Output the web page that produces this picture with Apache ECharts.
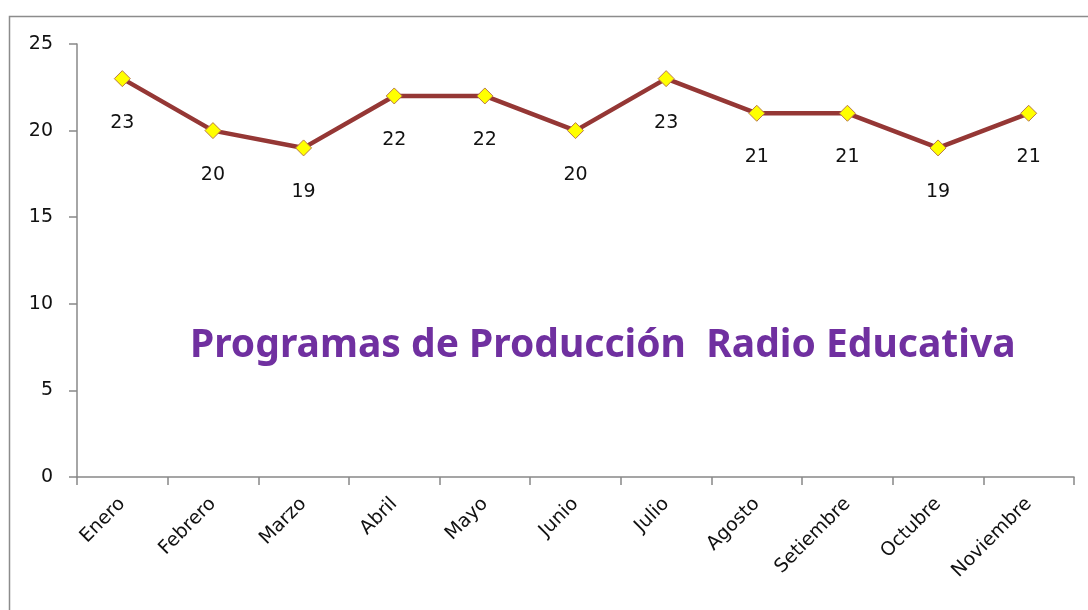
<!DOCTYPE html>
<html>
<head>
<meta charset="utf-8">
<script src="https://cdn.jsdelivr.net/npm/echarts@6/dist/echarts.min.js"></script>
<style>
    html, body { margin: 0; padding: 0; background: #fff; }
    #chart { width: 1088px; height: 610px; }
</style>
</head>
<body>
<div id="chart"></div>
<script>
    const months = ['Enero', 'Febrero', 'Marzo', 'Abril', 'Mayo', 'Junio', 'Julio', 'Agosto', 'Setiembre', 'Octubre', 'Noviembre'];
    const programas = [23, 20, 19, 22, 22, 20, 23, 21, 21, 19, 21];
    const yTicks = [0, 5, 10, 15, 20, 25];

    const font = 'DejaVu Sans, Verdana, sans-serif';
    let myChart = echarts.init(document.getElementById('chart'));
    let option = {
        animation: false,
        backgroundColor: '#fff',
        grid: {left: 77, right: 14, top: 44, bottom: 133},
        graphic: [
            {
                type: 'rect',
                shape: {x: 9.5, y: 16.5, width: 1200, height: 800},
                style: {fill: 'none', stroke: '#8c8c8c', lineWidth: 1.5},
                silent: true
            },
            {
                type: 'text',
                left: 190,
                top: 326,
                style: {
                    text: 'Programas de Producción  Radio Educativa',
                    fill: '#7030a0',
                    font: 'bold 39px "Noto Sans", "Open Sans", sans-serif'
                }
            }
        ],
        xAxis: {
            type: 'category',
            data: months,
            boundaryGap: true,
            axisLine: {lineStyle: {color: '#888', width: 1.5}},
            axisTick: {show: true, length: 8, alignWithLabel: false, lineStyle: {color: '#888', width: 1.5}},
            axisLabel: {rotate: 45, interval: 0, margin: 24, color: '#111', fontFamily: font, fontSize: 19}
        },
        yAxis: {
            type: 'value',
            min: yTicks[0],
            max: yTicks[yTicks.length - 1],
            interval: 5,
            splitLine: {show: false},
            axisLine: {show: true, lineStyle: {color: '#888', width: 1.5}},
            axisTick: {show: true, length: 8, lineStyle: {color: '#888', width: 1.5}},
            axisLabel: {margin: 24, color: '#111', fontFamily: font, fontSize: 19}
        },
        series: [{
            type: 'line',
            data: programas,
            lineStyle: {color: '#953735', width: 4.5},
            symbol: 'diamond',
            symbolSize: 16,
            itemStyle: {color: '#ffff00', borderColor: '#b8774a', borderWidth: 1},
            label: {
                show: true,
                position: 'bottom',
                distance: 26,
                color: '#111',
                fontFamily: font,
                fontSize: 19
            }
        }]
    };
    myChart.setOption(option);
</script>
</body>
</html>
